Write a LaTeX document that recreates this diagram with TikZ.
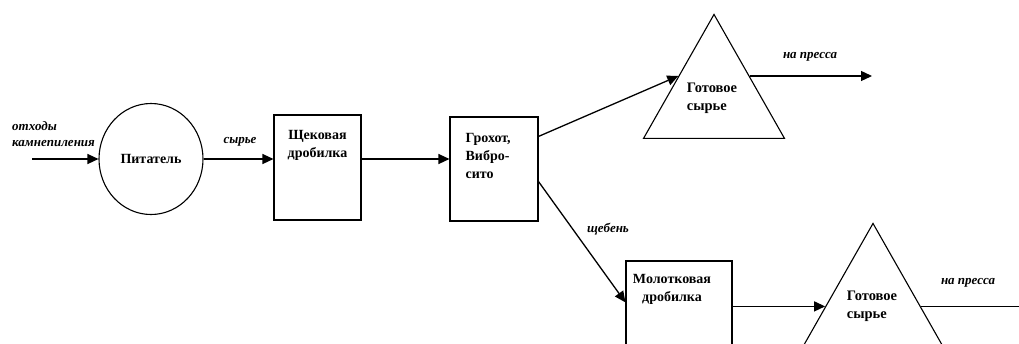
\documentclass[tikz,border=0pt]{standalone}
\usepackage{fontspec}
\setmainfont{Liberation Serif}
\usetikzlibrary{
    shapes.geometric, % For the ellipse and the triangles
    arrows.meta,      % For filled arrow tips
    calc              % For points on the sides of nodes
}
\tikzset{
    % A shape for the feeder
    feeder_node/.style={
        ellipse, draw=black, line width=1.1pt, inner sep=0pt,
        minimum width=104pt, minimum height=111pt,
        font=\bfseries\fontsize{14}{18}\selectfont
    },
    % A shape for the machines (crushers, screen)
    machine_node/.style={
        rectangle, draw=black, line width=1.1pt,
        minimum width=87pt, minimum height=105pt
    },
    % Text written inside a machine
    machine_text/.style={
        inner sep=0pt, align=center,
        font=\bfseries\fontsize{14}{18}\selectfont
    },
    % A shape for the finished product
    product_node/.style={
        isosceles triangle, shape border rotate=90,
        isosceles triangle stretches, draw=black, line width=1.1pt,
        minimum width=141pt, minimum height=124pt, inner sep=0pt
    },
    % Text written inside a product
    product_text/.style={
        inner sep=0pt, align=left,
        font=\bfseries\fontsize{14.5}{18}\selectfont
    },
    % Labels on the flows
    flow_label/.style={
        inner sep=0pt, align=left,
        font=\bfseries\itshape\fontsize{13}{16}\selectfont
    },
    % Arrow and line styles
    flow_arrow/.style={-{Triangle[length=11pt,width=10pt]}, line width=1.3pt, draw=black}
}

\begin{document}
\begin{tikzpicture}[x=1pt, y=-1pt]

\useasboundingbox (0,0) rectangle (1019,343);
\clip (0,0) rectangle (1019,343);

% --- NODE DEFINITIONS ---

% Feeder and first crusher
\node[feeder_node] (feeder) at (151,159) {Питатель};
\node[machine_node, label={[machine_text, anchor=north, yshift=-16pt]north:Щековая\\дробилка}] (jaw_crusher) at (317.5,167.5) {};

% Screen
\node[machine_node, minimum width=88pt, minimum height=104pt,
      label={[machine_text, align=left, anchor=north west, xshift=16pt, yshift=-17pt]north west:Грохот,\\Вибро-\\сито}] (screen) at (494,169) {};

% Second crusher (cut off at the bottom)
\node[machine_node, minimum width=106pt, minimum height=90pt,
      label={[machine_text, anchor=north, xshift=-7pt, yshift=-14pt]north:Молотковая\\дробилка}] (hammer_crusher) at (679,306) {};

% Finished products
\node[product_node, anchor=apex] (ready_top) at (714,13) {};
\node[product_text] (ready_top_text) at ($($(ready_top.left corner)!0.5!(ready_top.right corner)$)+(-2,-41)$) {Готовое\\сырье};

\node[product_node, anchor=apex] (ready_bottom) at (873,222) {};
\node[product_text] (ready_bottom_text) at ($($(ready_bottom.left corner)!0.5!(ready_bottom.right corner)$)+(-1,-42)$) {Готовое\\сырье};

% Free ends of the flows
\coordinate (waste_in) at (32,159);
\coordinate (press_top) at (872,0);
\coordinate (press_bottom) at (1060,0);

% --- EDGE ROUTING ---

\draw[flow_arrow] (waste_in) -- (feeder);
\draw[flow_arrow] (feeder.east) -- (feeder.east -| jaw_crusher.west);
\draw[flow_arrow] (jaw_crusher.east |- feeder.east) -- (screen.west |- feeder.east);

% Screen to the finished product and to the hammer crusher
\coordinate (top_in) at ($(ready_top.apex)!0.5!(ready_top.left corner)$);
\draw[flow_arrow] ($(screen.north east)!0.19!(screen.south east)$) -- (top_in);
\draw[flow_arrow] ($(screen.north east)!0.62!(screen.south east)$) -- ($(hammer_crusher.north west)!0.46!(hammer_crusher.south west)$);

% Hammer crusher to the finished product
\coordinate (bottom_in) at ($(ready_bottom.apex)!0.67!(ready_bottom.left corner)$);
\draw[flow_arrow] (hammer_crusher.east |- bottom_in) -- (bottom_in);

% Products to the presses
\coordinate (top_out) at ($(ready_top.apex)!0.5!(ready_top.right corner)$);
\draw[flow_arrow] (top_out) -- (top_out -| press_top);
\coordinate (bottom_out) at ($(ready_bottom.apex)!0.67!(ready_bottom.right corner)$);
\draw[flow_arrow] (bottom_out) -- (bottom_out -| press_bottom);

% --- FLOW LABELS ---
\node[flow_label, anchor=west] (waste_label) at (12,134) {отходы\\камнепиления};
\node[flow_label] (raw_label) at (240,142) {сырье};
\node[flow_label] (rubble_label) at (608,229) {щебень};
\node[flow_label] (press_top_label) at (810,57) {на пресса};
\node[flow_label] (press_bottom_label) at (968,283) {на пресса};

\end{tikzpicture}
\end{document}
